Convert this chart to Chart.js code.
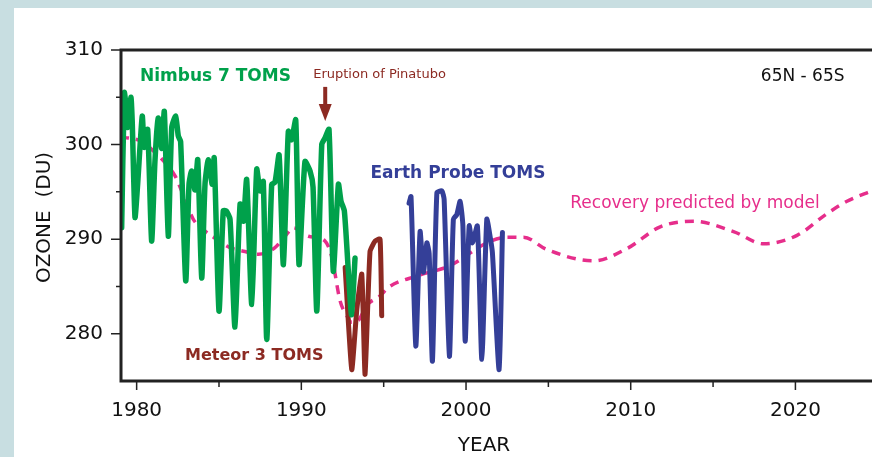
<!DOCTYPE html>
<html>
<head>
<meta charset="utf-8">
<script src="https://cdn.jsdelivr.net/npm/chart.js@4.4.1/dist/chart.umd.min.js"></script>
<style>
  html, body { margin: 0; padding: 0; background: #c8dee1; }
  canvas { display: block; }
</style>
</head>
<body>
<canvas id="myChart" width="872" height="457"></canvas>
<script>
// Nimbus 7 TOMS
var nimbusYears = [1979.09, 1979.25, 1979.35, 1979.45, 1979.65, 1979.73, 1979.90, 1980.06, 1980.34, 1980.46, 1980.67, 1980.91,
  1981.11, 1981.31, 1981.52, 1981.68, 1981.92, 1982.13, 1982.37, 1982.53, 1982.67, 1982.98, 1983.18, 1983.34, 1983.54,
  1983.71, 1983.95, 1984.15, 1984.35, 1984.59, 1984.71, 1985.00, 1985.26, 1985.43, 1985.67, 1985.97, 1986.28, 1986.48,
  1986.68, 1986.99, 1987.29, 1987.49, 1987.69, 1987.90, 1988.20, 1988.40, 1988.65, 1988.91, 1989.21, 1989.40, 1989.66,
  1989.86, 1990.22, 1990.53, 1990.71, 1990.94, 1991.24, 1991.44, 1991.68, 1991.94, 1992.25, 1992.41, 1992.61, 1992.84,
  1993.05, 1993.26];
var nimbusValues = [291.2, 305.5, 304.2, 301.8, 305.0, 302.5, 292.3, 295.8, 303.0, 299.7, 301.6, 289.8,
  298.2, 302.8, 299.6, 303.5, 290.3, 301.8, 303.0, 300.9, 300.3, 285.6, 295.8, 297.2, 295.2,
  298.4, 285.9, 295.8, 298.4, 295.8, 298.6, 282.4, 293.0, 293.0, 292.1, 280.7, 293.7, 291.9,
  296.3, 283.1, 297.4, 295.1, 296.1, 279.4, 295.8, 296.0, 298.9, 287.3, 301.4, 300.5, 302.6,
  287.3, 298.2, 297.2, 295.5, 282.4, 300.0, 300.7, 301.6, 286.6, 295.8, 294.0, 293.0, 287.0,
  282.0, 288.0];

// Meteor 3 TOMS
var meteorYears = [1992.66, 1993.06, 1993.37, 1993.67, 1993.87, 1994.17, 1994.48, 1994.78, 1994.88];
var meteorValues = [287.0, 276.2, 282.6, 286.3, 275.7, 288.7, 289.8, 290.0, 281.9];

// Earth Probe TOMS
var probeYears = [1996.54, 1996.66, 1996.95, 1997.21, 1997.41, 1997.62, 1997.76, 1997.96, 1998.23, 1998.53, 1998.67,
  1998.99, 1999.23, 1999.44, 1999.64, 1999.81, 1999.95, 2000.19, 2000.39, 2000.69, 2000.96, 2001.26, 2001.46,
  2001.60, 2002.01, 2002.21];
var probeValues = [293.8, 294.5, 278.7, 290.8, 286.5, 289.6, 288.5, 277.1, 294.9, 295.1, 294.2,
  277.6, 292.1, 292.6, 294.0, 291.4, 279.2, 291.4, 289.6, 291.4, 277.3, 292.1, 290.3,
  288.6, 276.2, 290.7];

// model
var modelYears = [1978.99, 1980.20, 1980.91, 1981.72, 1982.33, 1982.73, 1983.04, 1983.44, 1984.05, 1984.76, 1985.67,
  1986.58, 1987.39, 1988.40, 1989.01, 1989.51, 1990.43, 1991.44, 1991.85, 1992.35, 1992.76, 1993.06, 1993.46,
  1993.97, 1994.78, 1995.29, 1997.01, 1999.03, 2001.26, 2002.48, 2003.49, 2004.91, 2007.74, 2009.77, 2011.79,
  2013.81, 2016.24, 2018.07, 2020.10, 2021.92, 2023.13, 2024.35, 2025.0];
var modelValues = [300.8, 300.4, 299.5, 298.1, 296.7, 295.1, 293.7, 292.1, 291.0, 290.1, 289.1,
  288.7, 288.4, 289.1, 290.3, 291.2, 290.3, 289.8, 288.1, 283.5, 281.9, 281.2, 281.4,
  283.0, 284.0, 284.9, 286.1, 287.2, 289.6, 290.2, 290.2, 288.9, 287.7, 289.0, 291.3,
  291.9, 290.8, 289.5, 290.4, 292.7, 294.0, 294.9, 295.3];

var xTicks = [1980, 1990, 2000, 2010, 2020];
var xMinorTicks = [1985, 1995, 2005, 2015];
var yTicks = [280, 290, 300, 310];
var yMinorTicks = [285, 295, 305];

function pts(xs, ys) {
  return xs.map((x, i) => ({ x: x, y: ys[i] }));
}

var FONT = "'DejaVu Sans', sans-serif";

var decor = {
  id: 'decor',
  beforeDraw(chart) {
    var ctx = chart.ctx;
    ctx.save();
    ctx.fillStyle = '#c8dee1';
    ctx.fillRect(0, 0, chart.width, chart.height);
    ctx.fillStyle = '#ffffff';
    ctx.fillRect(14, 8, chart.width - 14, chart.height - 8);
    ctx.restore();
  },
  afterDraw(chart) {
    var ctx = chart.ctx;
    var a = chart.chartArea;
    var xs = chart.scales.x, ys = chart.scales.y;
    ctx.save();
    // axes
    ctx.strokeStyle = '#222';
    ctx.lineWidth = 3;
    ctx.beginPath();
    ctx.moveTo(chart.width, a.top);
    ctx.lineTo(a.left, a.top);
    ctx.lineTo(a.left, a.bottom);
    ctx.lineTo(chart.width, a.bottom);
    ctx.stroke();
    ctx.lineWidth = 1.5;
    ctx.beginPath();
    xTicks.forEach(v => { var p = xs.getPixelForValue(v); ctx.moveTo(p, a.bottom); ctx.lineTo(p, a.bottom + 9); });
    xMinorTicks.forEach(v => { var p = xs.getPixelForValue(v); ctx.moveTo(p, a.bottom); ctx.lineTo(p, a.bottom + 6); });
    yTicks.forEach(v => { var p = ys.getPixelForValue(v); ctx.moveTo(a.left, p); ctx.lineTo(a.left - 10, p); });
    yMinorTicks.forEach(v => { var p = ys.getPixelForValue(v); ctx.moveTo(a.left, p); ctx.lineTo(a.left - 5, p); });
    ctx.stroke();

    // axis titles
    ctx.fillStyle = '#111';
    ctx.font = '20px ' + FONT;
    ctx.textAlign = 'center';
    ctx.textBaseline = 'middle';
    ctx.fillText('YEAR', 484, 446);
    ctx.translate(45, (a.top + a.bottom) / 2 + 2);
    ctx.rotate(-Math.PI / 2);
    ctx.fillText('OZONE  (DU)', 0, 0);
    ctx.setTransform(1, 0, 0, 1, 0, 0);

    // labels
    function label(text, yr, val, font, color) {
      ctx.font = font;
      ctx.fillStyle = color;
      ctx.textAlign = 'left';
      ctx.textBaseline = 'middle';
      ctx.fillText(text, xs.getPixelForValue(yr), ys.getPixelForValue(val));
    }
    label('Nimbus 7 TOMS', 1980.2, 307.2, 'bold 17px ' + FONT, '#00a14b');
    label('Eruption of Pinatubo', 1990.72, 307.4, '13px ' + FONT, '#8c2a22');
    label('65N - 65S', 2017.9, 307.2, '17px ' + FONT, '#111');
    label('Earth Probe TOMS', 1994.2, 296.9, 'bold 17px ' + FONT, '#343f98');
    label('Recovery predicted by model', 2006.33, 293.8, '17px ' + FONT, '#e62e8b');
    label('Meteor 3 TOMS', 1982.94, 277.7, 'bold 16px ' + FONT, '#8c2a22');

    // Pinatubo arrow
    var ax = xs.getPixelForValue(1991.45);
    var y0 = ys.getPixelForValue(306.1), y1 = ys.getPixelForValue(302.5);
    ctx.strokeStyle = '#8c2a22';
    ctx.fillStyle = '#8c2a22';
    ctx.lineWidth = 4;
    ctx.beginPath();
    ctx.moveTo(ax, y0);
    ctx.lineTo(ax, y1 - 12);
    ctx.stroke();
    ctx.beginPath();
    ctx.moveTo(ax - 6.5, y1 - 17);
    ctx.lineTo(ax + 6.5, y1 - 17);
    ctx.lineTo(ax, y1);
    ctx.closePath();
    ctx.fill();
    ctx.restore();
  }
};

new Chart("myChart", {
  type: "line",
  data: {
    datasets: [{
      label: 'Nimbus 7 TOMS',
      data: pts(nimbusYears, nimbusValues),
      borderColor: '#00a14b',
      borderWidth: 5.5,
      pointRadius: 0,
      tension: 0.2,
      borderJoinStyle: 'round',
      borderCapStyle: 'round'
    }, {
      label: 'Meteor 3 TOMS',
      data: pts(meteorYears, meteorValues),
      borderColor: '#8c2a22',
      borderWidth: 5,
      pointRadius: 0,
      tension: 0.15,
      borderJoinStyle: 'round',
      borderCapStyle: 'round'
    }, {
      label: 'Earth Probe TOMS',
      data: pts(probeYears, probeValues),
      borderColor: '#343f98',
      borderWidth: 5,
      pointRadius: 0,
      tension: 0.2,
      borderJoinStyle: 'round',
      borderCapStyle: 'round'
    }, {
      label: 'Model',
      data: pts(modelYears, modelValues),
      borderColor: '#e62e8b',
      borderWidth: 3.5,
      borderDash: [9, 7],
      pointRadius: 0,
      cubicInterpolationMode: 'monotone'
    }]
  },
  options: {
    responsive: false,
    animation: false,
    events: [],
    layout: { padding: { top: 50, left: 0, right: 0, bottom: 0 } },
    plugins: {
      legend: { display: false },
      tooltip: { enabled: false }
    },
    scales: {
      x: {
        type: 'linear',
        min: 1979.05,
        max: 2024.65,
        grid: { display: false },
        border: { display: false },
        afterFit: (s) => { s.height = 76; },
        afterBuildTicks: (s) => { s.ticks = xTicks.map(v => ({ value: v })); },
        ticks: {
          padding: 10,
          maxRotation: 0,
          color: '#111',
          font: { family: FONT, size: 20 },
          callback: (v) => String(v)
        }
      },
      y: {
        min: 275,
        max: 310,
        grid: { display: false },
        border: { display: false },
        afterFit: (s) => { s.width = 121; },
        afterBuildTicks: (s) => { s.ticks = yTicks.map(v => ({ value: v })); },
        ticks: {
          padding: 10,
          color: '#111',
          font: { family: FONT, size: 20 }
        }
      }
    }
  },
  plugins: [decor]
});
</script>
</body>
</html>
